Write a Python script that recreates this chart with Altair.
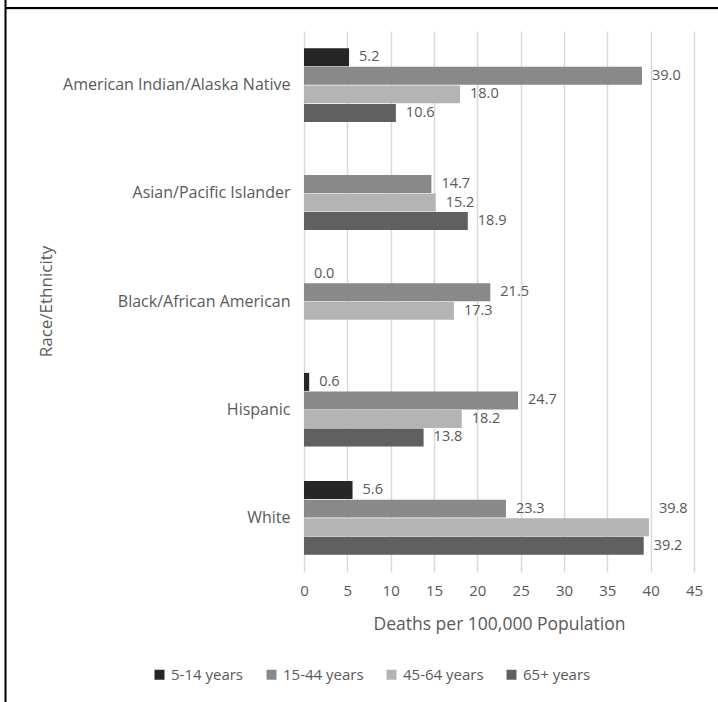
import altair as alt
import pandas as pd

categories = ["American Indian/Alaska Native", "Asian/Pacific Islander",
              "Black/African American", "Hispanic", "White"]
series = ["5-14 years", "15-44 years", "45-64 years", "65+ years"]
v_5_14 = [5.2, None, 0.0, 0.6, 5.6]
v_15_44 = [39.0, 14.7, 21.5, 24.7, 23.3]
v_45_64 = [18.0, 15.2, 17.3, 18.2, 39.8]
v_65 = [10.6, 18.9, None, 13.8, 39.2]
x_ticks = [0, 5, 10, 15, 20, 25, 30, 35, 40, 45]
colors = ["#262626", "#898989", "#b4b4b4", "#606060"]

rows = []
for s, vals in zip(series, [v_5_14, v_15_44, v_45_64, v_65]):
    for c, v in zip(categories, vals):
        if v is not None:
            rows.append({"category": c, "series": s, "value": v})
df = pd.DataFrame(rows)

FONT = "Open Sans"
TXT = "#595959"
LFS = 14.5

y_enc = alt.Y("category:N", sort=categories,
              scale=alt.Scale(paddingInner=0.32, paddingOuter=0.16),
              axis=alt.Axis(title="Race/Ethnicity", domain=False, ticks=False, grid=False,
                            labelPadding=14, labelFontSize=16, labelColor=TXT, labelFont=FONT,
                            labelLimit=0, labelFontWeight="normal",
                            titleFontSize=17, titleColor=TXT, titleFont=FONT,
                            titleFontWeight="normal", titleX=-258, titleY=270,
                            titleBaseline="middle", titleAlign="center"))
yoff = alt.YOffset("series:N", sort=series, scale=alt.Scale(domain=series, paddingInner=0.03))
x_enc = alt.X("value:Q", scale=alt.Scale(domain=[0, 45], nice=False),
              axis=alt.Axis(title="Deaths per 100,000 Population", values=x_ticks,
                            domain=False, ticks=False, grid=True, gridColor="#d9d9d9",
                            gridWidth=1.5, labelPadding=11, labelFontSize=15,
                            labelFlush=False, labelOverlap=False,
                            labelColor=TXT, labelFont=FONT, titleFontSize=17.5,
                            titleColor=TXT, titleFont=FONT, titleFontWeight="normal",
                            titleY=52, titleBaseline="middle"))

base = alt.Chart(df)

bars = base.mark_bar().encode(
    x=x_enc, y=y_enc, yOffset=yoff,
    color=alt.Color("series:N", sort=series,
                    scale=alt.Scale(domain=series, range=colors),
                    legend=alt.Legend(title=None, orient="none", direction="horizontal",
                                      legendX=-152, legendY=636, symbolType="square",
                                      symbolSize=100, symbolStrokeWidth=0,
                                      labelFontSize=15, labelColor=TXT, labelFont=FONT,
                                      labelOffset=4, columnPadding=20)),
)

labels = base.mark_text(align="left", baseline="middle", dx=10, fontSize=LFS,
                        font=FONT, color=TXT).encode(
    x="value:Q", y=alt.Y("category:N", sort=categories), yOffset=yoff,
    text=alt.Text("value:Q", format=".1f"),
).transform_filter("datum.value < 39.5")

labels_high = base.mark_text(align="left", baseline="middle", dx=10, dy=-18, fontSize=LFS,
                             font=FONT, color=TXT).encode(
    x="value:Q", y=alt.Y("category:N", sort=categories), yOffset=yoff,
    text=alt.Text("value:Q", format=".1f"),
).transform_filter("datum.value >= 39.5")

frame = alt.Chart(alt.Data(values=[{"a": 1}]))
top_line = frame.mark_rule(color="black", strokeWidth=2).encode(
    x=alt.value(-299), x2=alt.value(414), y=alt.value(-23))
top_line2 = frame.mark_rule(color="#d9d9d9", strokeWidth=1).encode(
    x=alt.value(-297), x2=alt.value(414), y=alt.value(-21.5))
left_line = frame.mark_rule(color="black", strokeWidth=2).encode(
    x=alt.value(-298.5), y=alt.value(-31), y2=alt.value(671))

chart = alt.layer(bars, labels, labels_high, top_line, top_line2, left_line).properties(
    width=390, height=541,
    autosize=alt.AutoSizeParams(type="none"),
    padding={"left": 304, "top": 31, "right": 24, "bottom": 130},
    background="white",
).configure_view(stroke=None)

chart.save("out.html", embed_options={"renderer": "svg", "actions": False})
